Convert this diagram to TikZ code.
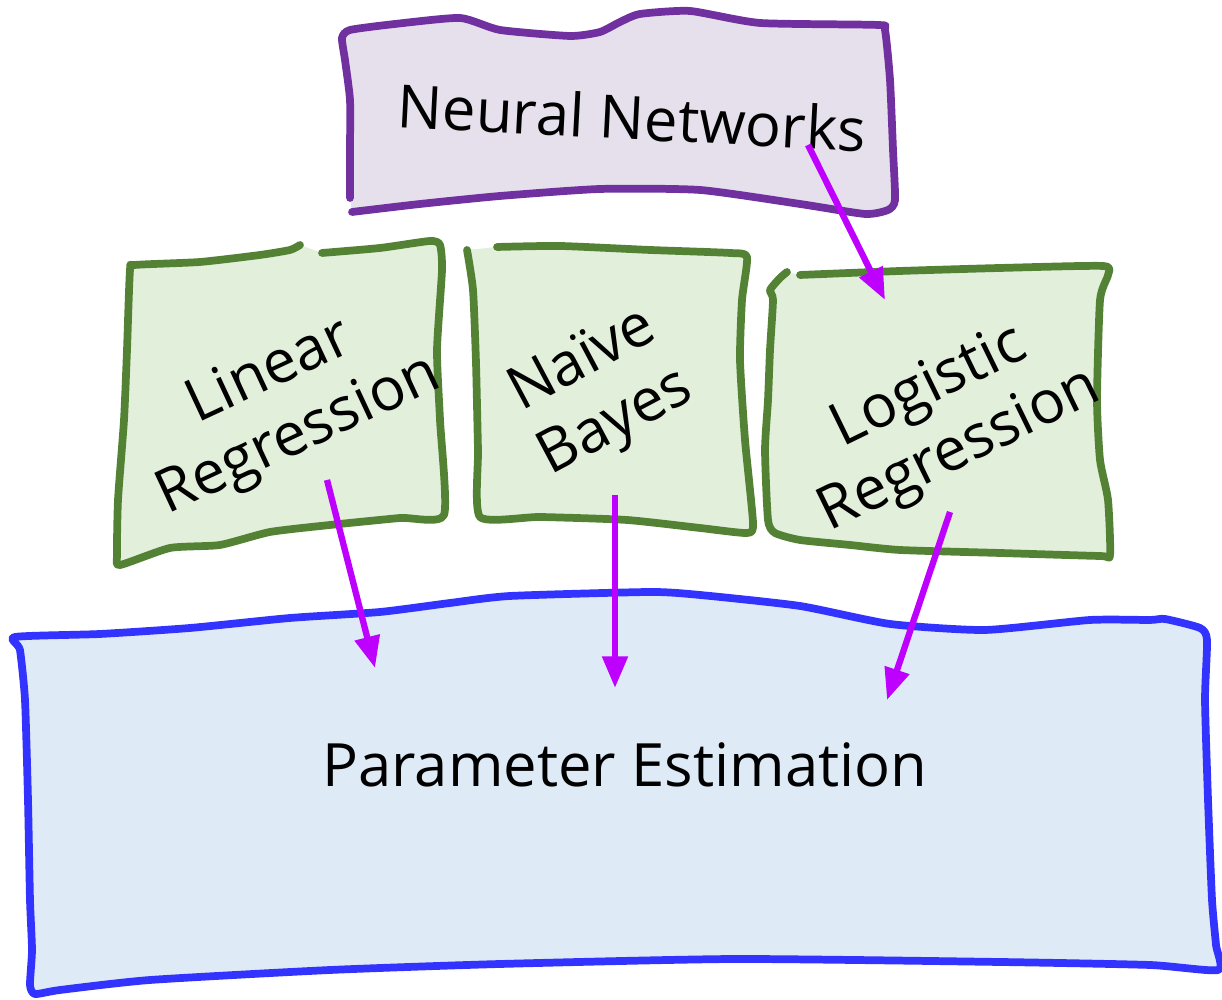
\documentclass[tikz,border=0pt]{standalone}
\usepackage{fontspec}
\setmainfont{Open Sans}
\usepackage{tikz}
\usetikzlibrary{arrows.meta}
\definecolor{nnline}{RGB}{112,48,160}
\definecolor{nnfill}{RGB}{230,224,236}
\definecolor{mlline}{RGB}{84,130,53}
\definecolor{mlfill}{RGB}{226,239,218}
\definecolor{peline}{RGB}{51,51,255}
\definecolor{pefill}{RGB}{222,234,246}
\definecolor{flowcol}{RGB}{190,0,255}

\begin{document}
\begin{tikzpicture}[sketch/.style={line width=2.2pt, line join=round, line cap=round},
    label/.style={align=center, font=\fontsize{17}{20}\selectfont, inner sep=0pt},
    flow/.style={line width=1.8pt, flowcol, -{Triangle[length=9pt,width=7pt]}}]
    \useasboundingbox (0,0) rectangle (12.22,10);

    \path[sketch, draw=nnline, fill=nnfill] plot[smooth, tension=0.35] coordinates {(3.52,7.88) (4.20,7.96) (5.00,8.04) (6.00,8.11) (7.00,8.10) (8.00,7.96) (8.65,7.86) (8.88,7.90) (8.95,8.00) (8.93,8.50) (8.90,9.20) (8.85,9.70) (8.78,9.75) (7.60,9.77) (6.90,9.89) (6.40,9.86) (6.20,9.78) (6.00,9.68) (5.70,9.64) (5.00,9.70) (4.60,9.82) (3.95,9.76) (3.50,9.70) (3.42,9.62) (3.45,9.40) (3.50,9.00) (3.50,8.50) (3.50,8.02)};
    \path[sketch, draw=mlline, fill=mlfill] plot[smooth, tension=0.35] coordinates {(3.22,7.47) (3.80,7.52) (4.30,7.59) (4.40,7.55) (4.42,7.30) (4.37,6.50) (4.40,5.80) (4.44,4.85) (4.00,4.82) (3.30,4.75) (2.70,4.68) (2.20,4.55) (1.70,4.52) (1.20,4.35) (1.17,4.45) (1.18,5.00) (1.24,5.80) (1.27,6.50) (1.30,7.30) (1.35,7.35) (2.00,7.38) (2.60,7.45) (2.90,7.50) (3.00,7.55)};
    \path[sketch, draw=mlline, fill=mlfill] plot[smooth, tension=0.35] coordinates {(4.97,7.53) (5.60,7.54) (6.50,7.50) (7.30,7.47) (7.47,7.43) (7.42,7.00) (7.40,6.40) (7.45,5.60) (7.53,4.77) (7.47,4.67) (7.00,4.72) (6.27,4.80) (5.40,4.83) (4.80,4.83) (4.78,5.50) (4.76,6.37) (4.73,7.10) (4.67,7.50)};
    \path[sketch, draw=mlline, fill=mlfill] plot[smooth, tension=0.35] coordinates {(8.00,7.25) (9.00,7.29) (10.00,7.32) (11.03,7.34) (11.08,7.25) (11.00,7.00) (10.97,6.00) (11.00,5.40) (11.08,5.00) (11.10,4.45) (11.00,4.44) (10.00,4.47) (9.00,4.50) (8.50,4.55) (8.00,4.60) (7.75,4.67) (7.68,4.80) (7.65,5.50) (7.68,6.00) (7.70,6.50) (7.73,7.00) (7.70,7.10) (7.80,7.22) (7.87,7.28)};
    \path[sketch, draw=peline, fill=pefill] plot[smooth cycle, tension=0.35] coordinates {(0.15,3.63) (1.00,3.66) (1.90,3.72) (2.90,3.82) (3.80,3.88) (4.50,3.97) (5.10,4.04) (6.50,4.08) (7.00,4.05) (8.00,3.94) (8.90,3.76) (9.85,3.70) (10.90,3.80) (11.50,3.80) (11.65,3.81) (12.00,3.72) (12.07,3.60) (12.05,3.00) (12.08,2.00) (12.12,1.00) (12.16,0.55) (12.18,0.30) (11.50,0.35) (10.00,0.38) (7.35,0.41) (5.00,0.36) (3.30,0.30) (1.50,0.20) (0.60,0.10) (0.35,0.06) (0.30,0.15) (0.32,0.50) (0.30,1.00) (0.28,2.00) (0.25,3.00) (0.20,3.50)};

    \node[label, rotate=-3] (nn) at (6.32,8.83) {Neural Networks};
    \node[label, rotate=25] (linreg) at (2.85,5.95) {Linear\\Regression};
    \node[label, rotate=28] (nb) at (6.00,6.07) {Naïve\\Bayes};
    \node[label, rotate=26] (logreg) at (9.45,5.80) {Logistic\\Regression};
    \node[label] (pe) at (6.25,2.35) {Parameter Estimation};

    \draw[flow] ([shift={(1.76,-0.28)}]nn.center) -- ([shift={(-0.60,1.20)}]logreg.center);
    \draw[flow] ([shift={(0.42,-0.75)}]linreg.center) -- ([shift={(-2.50,0.97)}]pe.center);
    \draw[flow] ([shift={(0.15,-1.02)}]nb.center) -- ([shift={(-0.10,0.77)}]pe.center);
    \draw[flow] ([shift={(0.05,-0.92)}]logreg.center) -- ([shift={(2.62,0.65)}]pe.center);
\end{tikzpicture}
\end{document}
